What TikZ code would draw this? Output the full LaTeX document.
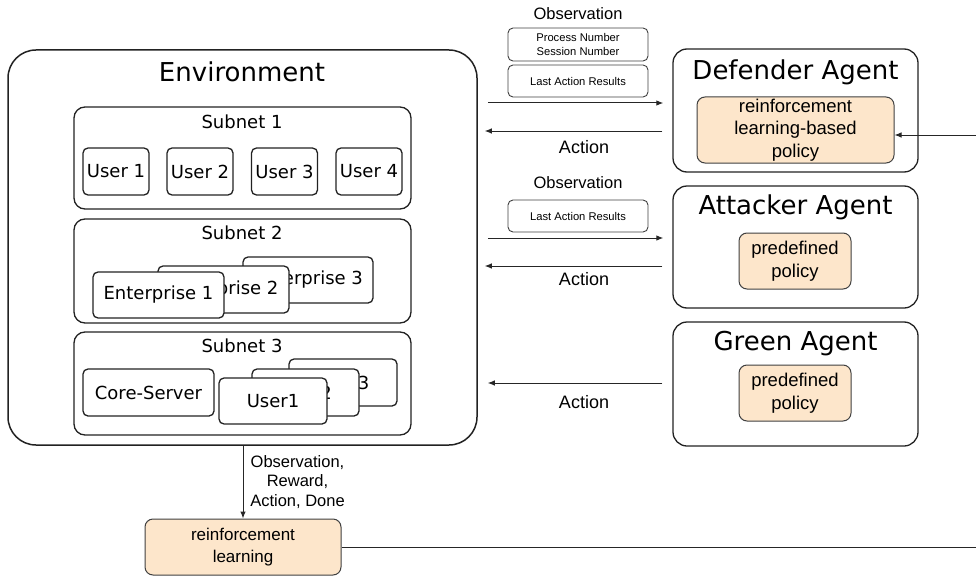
\documentclass[tikz,border=0pt]{standalone}
\usepackage{fontspec}
\newfontfamily\vfont{DejaVu Sans}
\newfontfamily\afont{Liberation Sans}
\usetikzlibrary{arrows.meta}
\definecolor{orfill}{HTML}{FDE6CB}
\definecolor{lnc}{HTML}{222222}
\tikzset{
  bx/.style={draw=lnc, line width=1.3pt, fill=white, inner sep=0pt, rectangle},
  envbox/.style={bx, rounded corners=28pt, line width=1.5pt},
  subbox/.style={bx, rounded corners=11pt},
  hostbox/.style={bx, rounded corners=5pt, font=\vfont\fontsize{18}{22}\selectfont},
  agbox/.style={bx, rounded corners=14pt},
  orbox/.style={bx, fill=orfill, draw=black!75, line width=1pt, rounded corners=8pt, align=center,
     font=\afont\fontsize{18.5}{22.5}\selectfont},
  obsbox/.style={bx, draw=black!75, line width=0.9pt, rounded corners=5pt, align=center,
     font=\afont\fontsize{11.2}{14}\selectfont},
  bigtitle/.style={inner sep=0pt, font=\vfont\fontsize{26}{30}\selectfont},
  subtitle/.style={inner sep=0pt, font=\vfont\fontsize{18}{22}\selectfont},
  lbl/.style={inner sep=0pt, align=center, font=\afont\fontsize{16.5}{19.5}\selectfont},
  actlbl/.style={inner sep=0pt, font=\afont\fontsize{18}{22}\selectfont},
  arr/.style={draw=black!85, line width=1pt, -{Latex[length=7pt,width=5.5pt]}},
  ln/.style={draw=black!85, line width=1pt},
}
\begin{document}
\begin{tikzpicture}[x=1pt,y=-1pt]
\useasboundingbox (0,0) rectangle (976,575);
% Environment
\node[envbox, minimum width=469pt, minimum height=395pt] (env) at (242.5,247.5) {};
\node[bigtitle] (envt) at (242,72) {Environment};
% Subnet 1
\node[subbox, minimum width=337pt, minimum height=102pt] (s1) at (242.5,158) {};
\node[subtitle] (s1t) at (242,122) {Subnet 1};
\node[hostbox, minimum width=66pt, minimum height=47pt] (u1) at (116,171.5) {User 1};
\node[hostbox, minimum width=66pt, minimum height=47pt] (u2) at (200,171.5) {User 2};
\node[hostbox, minimum width=66pt, minimum height=47pt] (u3) at (284.5,171.5) {User 3};
\node[hostbox, minimum width=66pt, minimum height=47pt] (u4) at (369,171.5) {User 4};
% Subnet 2
\node[subbox, minimum width=337pt, minimum height=104pt] (s2) at (242.5,271) {};
\node[subtitle] (s2t) at (242,233) {Subnet 2};
\node[hostbox, minimum width=130pt, minimum height=46pt] (e3) at (308,280) {Enterprise 3};
\node[hostbox, minimum width=131pt, minimum height=47pt] (e2) at (223.5,289.5) {Enterprise 2};
\node[hostbox, minimum width=131pt, minimum height=46pt] (e1) at (158.5,295) {Enterprise 1};
% Subnet 3
\node[subbox, minimum width=337pt, minimum height=103pt] (s3) at (242.5,383.5) {};
\node[subtitle] (s3t) at (242,346) {Subnet 3};
\node[hostbox, minimum width=131pt, minimum height=47pt] (core) at (148.5,392.5) {Core-Server};
\node[hostbox, minimum width=108pt, minimum height=47pt] (hu3) at (343,382.5) {User3};
\node[hostbox, minimum width=107pt, minimum height=47pt] (hu2) at (305.5,392.5) {User2};
\node[hostbox, minimum width=108pt, minimum height=46pt] (hu1) at (273,401) {User1};
% Agents
\node[agbox, minimum width=245pt, minimum height=123pt] (def) at (795.5,110.5) {};
\node[bigtitle] (deft) at (795.5,72) {Defender Agent};
\node[orbox, minimum width=197pt, minimum height=66pt] (rlp) at (795.5,130) {reinforcement\\learning-based\\policy};
\node[agbox, minimum width=245pt, minimum height=122pt] (att) at (795.5,247) {};
\node[bigtitle] (attt) at (795.5,207) {Attacker Agent};
\node[orbox, minimum width=112pt, minimum height=56pt] (pp1) at (795,261) {predefined\\policy};
\node[agbox, minimum width=245pt, minimum height=124pt] (grn) at (795.5,384) {};
\node[bigtitle] (grnt) at (795.5,344) {Green Agent};
\node[orbox, minimum width=112pt, minimum height=56pt] (pp2) at (795,393) {predefined\\policy};
% Observation info
\node[lbl] (obs1) at (578,14) {Observation};
\node[obsbox, minimum width=140pt, minimum height=33pt] (pn) at (578,44.5) {Process Number\\Session Number};
\node[obsbox, minimum width=140pt, minimum height=32pt] (lar1) at (578,81) {Last Action Results};
\node[lbl] (obs2) at (578,183) {Observation};
\node[obsbox, minimum width=140pt, minimum height=32pt] (lar2) at (578,216) {Last Action Results};
% connectors
\coordinate (y1) at (0,103);
\coordinate (y2) at (0,131);
\coordinate (y3) at (0,238);
\coordinate (y4) at (0,266);
\coordinate (y5) at (0,383);
\draw[arr, shorten <=10pt, shorten >=9pt] (env.east |- y1) -- (def.west |- y1);
\draw[arr, shorten <=10pt, shorten >=7pt] (def.west |- y2) -- (env.east |- y2);
\draw[arr, shorten <=10pt, shorten >=9pt] (env.east |- y3) -- (att.west |- y3);
\draw[arr, shorten <=10pt, shorten >=7pt] (att.west |- y4) -- (env.east |- y4);
\draw[arr, shorten <=10pt, shorten >=10pt] (grn.west |- y5) -- (env.east |- y5);
\node[actlbl] (act1) at (584,147) {Action};
\node[actlbl] (act2) at (584,279) {Action};
\node[actlbl] (act3) at (584,402) {Action};
% RL training loop
\node[orbox, minimum width=196pt, minimum height=56pt, font=\afont\fontsize{17}{22}\selectfont] (rl) at (243,547) {reinforcement\\learning};
\draw[arr] (env.south -| rl.north) -- (rl.north);
\node[lbl] (orad) at (297.5,482) {Observation,\\Reward,\\Action, Done};
\coordinate (rEdgeTop) at (976,135);
\coordinate (rEdgeBot) at (976,547);
\draw[arr] (rEdgeTop) -- (rlp.east |- rEdgeTop);
\draw[ln] (rl.east) -- (rEdgeBot);
\end{tikzpicture}
\end{document}
